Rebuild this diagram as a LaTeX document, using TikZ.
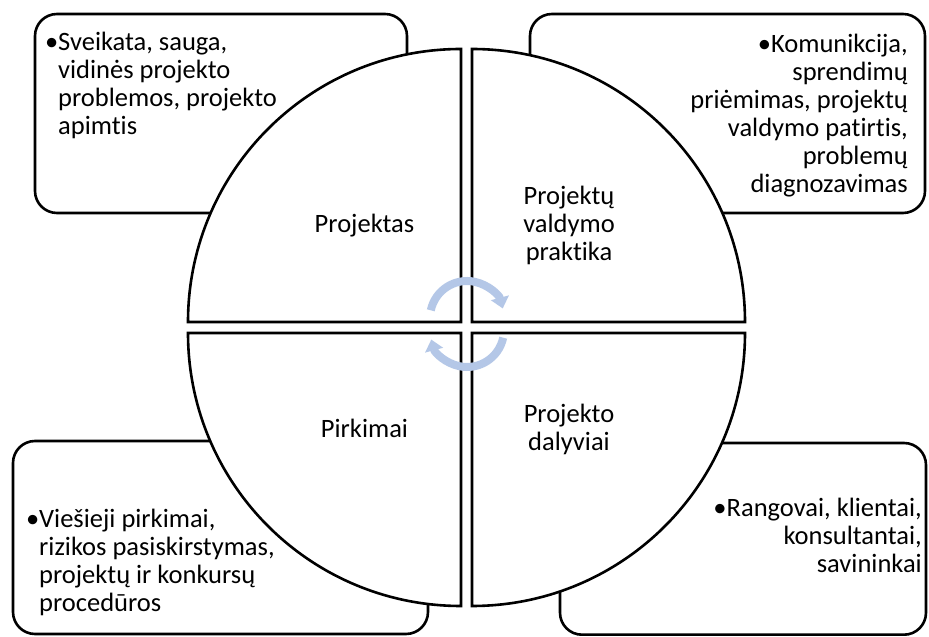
\documentclass[tikz,border=0pt]{standalone}
\usepackage{fontspec}
\setmainfont{Carlito}[Ligatures=NoCommon]
\usetikzlibrary{arrows.meta}
\definecolor{cyclblue}{RGB}{180,199,231}
\newcommand\LinesL[1]{\vtop{\halign{##\hfil\cr#1\crcr}}}
\newcommand\LinesR[1]{\vtop{\halign{\hfil##\cr#1\crcr}}}
\newcommand\LinesC[1]{\vtop{\halign{\hfil##\hfil\cr#1\crcr}}}
\tikzset{
  box/.style={draw=black, line width=2.6pt, fill=white, rounded corners=22pt},
  quad/.style={draw=black, line width=2.6pt, fill=white, line join=miter},
  txt/.style={inner sep=0pt, font=\fontsize{26.5pt}{28pt}\selectfont},
  cyc/.style={draw=cyclblue, line width=8pt, -{Triangle[width=18pt,length=11pt]}}
}
\begin{document}
\begin{tikzpicture}[x=1pt,y=1pt]
\useasboundingbox (0,0) rectangle (929,637);
% outer boxes
\draw[box] (35,623) rectangle (407,424);
\draw[box] (530,623) rectangle (925,424);
\draw[box] (13,196) rectangle (428,3);
\draw[box] (560,194) rectangle (926,2.3);
% quadrants
\draw[quad] (461,315) -- (188,315) arc[start angle=180, end angle=90, radius=273] -- cycle;
\draw[quad] (472,315) -- (472,588) arc[start angle=90, end angle=0, radius=273] -- cycle;
\draw[quad] (461,304) -- (188,304) arc[start angle=180, end angle=270, radius=273] -- cycle;
\draw[quad] (472,304) -- (745,304) arc[start angle=0, end angle=-90, radius=273] -- cycle;
% box texts
\node[txt, anchor=base west] (tltext) at (58,586) {\LinesL{\llap{•}Sveikata, sauga,\cr vidinės projekto\cr problemos, projekto\cr apimtis}};
\node[txt, anchor=base east] (trtext) at (908,584) {\LinesR{•Komunikcija,\cr sprendimų\cr priėmimas, projektų\cr valdymo patirtis,\cr problemų\cr diagnozavimas}};
\node[txt, anchor=base west] (bltext) at (39,109) {\LinesL{\llap{•}Viešieji pirkimai,\cr rizikos pasiskirstymas,\cr projektų ir konkursų\cr procedūros}};
\node[txt, anchor=base east] (brtext) at (922,120) {\LinesR{•Rangovai, klientai,\cr konsultantai,\cr savininkai}};
% quadrant labels
\node[txt, anchor=base] (q1) at (364.5,404) {Projektas};
\node[txt, anchor=base] (q2) at (569,432) {\LinesC{Projektų\cr valdymo\cr praktika}};
\node[txt, anchor=base] (q3) at (364.5,199) {Pirkimai};
\node[txt, anchor=base] (q4) at (569,214) {\LinesC{Projekto\cr dalyviai}};
% cycle arrows
\coordinate (cu) at (467,319);
\coordinate (cl) at (467,307);
\draw[cyc] ([shift={(168:37)}]cu) arc[start angle=168, end angle=15, radius=37];
\draw[cyc] ([shift={(-12:37)}]cl) arc[start angle=-12, end angle=-165, radius=37];
\end{tikzpicture}
\end{document}
